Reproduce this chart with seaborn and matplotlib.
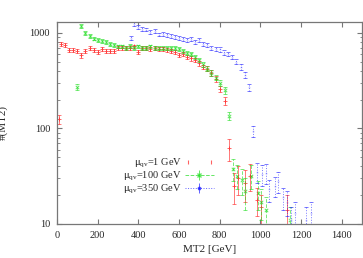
import numpy as np
import pandas as pd
import matplotlib
matplotlib.use("Agg")
import matplotlib.pyplot as plt
from matplotlib.lines import Line2D
from matplotlib.legend_handler import HandlerLine2D
from matplotlib.ticker import NullFormatter
import seaborn as sns

sns.set_style("ticks")
plt.rcParams['font.family'] = ['Liberation Serif', 'DejaVu Serif']
plt.rcParams['mathtext.fontset'] = 'custom'
plt.rcParams['mathtext.rm'] = 'Liberation Serif'
plt.rcParams['mathtext.it'] = 'Liberation Serif'

# mu_qv = 1 GeV
x1 = [10, 20, 40, 60, 80, 100, 120, 140, 160, 180, 200, 220, 240, 260, 280, 300,
      320, 340, 360, 380, 400, 420, 440, 460, 480, 500, 520, 540, 560, 580, 600,
      620, 640, 660, 680, 700, 720, 740, 760, 780, 800, 825, 845, 870, 890, 925,
      950, 985, 1005, 1130]
y1 = [125, 760, 740, 660, 660, 650, 580, 650, 690, 660, 630, 680, 650, 640, 640,
      700, 690, 700, 700, 720, 630, 700, 690, 680, 690, 680, 680, 660, 650, 630,
      590, 600, 560, 540, 520, 480, 440, 420, 380, 330, 260, 195, 62, 25, 30, 27,
      32, 18, 15, 14]
e1 = [14, 35, 35, 32, 32, 32, 30, 32, 33, 32, 31, 33, 32, 31, 31, 33, 33, 33, 33,
      34, 31, 33, 33, 33, 33, 33, 33, 32, 32, 31, 30, 30, 29, 29, 28, 27, 26, 25,
      24, 22, 20, 18, 16, 9, 10, 10, 10, 6, 5, 6]

# mu_qv = 100 GeV
x2 = [100, 120, 140, 160, 180, 200, 220, 240, 260, 280, 300, 320, 340, 360, 380,
      400, 420, 440, 460, 480, 500, 520, 540, 560, 580, 600, 620, 640, 660, 680,
      700, 720, 740, 760, 780, 800, 825, 845, 865, 885, 910, 925, 955, 990, 1005,
      1030, 1145]
y2 = [270, 1180, 1000, 930, 870, 840, 820, 800, 760, 740, 720, 720, 700, 730, 700,
      720, 690, 700, 720, 700, 690, 700, 690, 700, 690, 680, 650, 620, 600, 560,
      520, 470, 420, 380, 340, 300, 250, 135, 38, 32, 29, 22, 32, 21, 17, 14, 11]
e2 = [20, 45, 40, 38, 37, 36, 36, 35, 34, 34, 33, 33, 33, 34, 33, 33, 33, 33, 33,
      33, 33, 33, 33, 33, 33, 32, 32, 31, 30, 29, 28, 27, 25, 24, 22, 21, 19, 14,
      10, 9, 9, 8, 9, 7, 6, 5, 4]

# mu_qv = 350 GeV
x3 = [365, 380, 400, 420, 440, 460, 480, 500, 520, 540, 560, 580, 600, 620, 640,
      660, 680, 700, 720, 740, 760, 780, 800, 820, 840, 860, 880, 905, 925, 945,
      965, 985, 1010, 1030, 1045, 1070, 1085, 1110, 1130, 1150, 1170, 1225, 1250]
y3 = [890, 1240, 1150, 1100, 1080, 1020, 1050, 960, 980, 950, 930, 900, 880, 870,
      850, 860, 800, 840, 760, 740, 700, 680, 670, 620, 600, 560, 500, 440, 360,
      270, 94, 35, 33, 34, 23, 25, 28, 19, 17, 11, 13, 11, 13]
e3 = [40, 50, 48, 47, 46, 45, 46, 43, 44, 43, 42, 41, 41, 40, 40, 40, 39, 40, 38,
      37, 36, 36, 35, 34, 34, 32, 30, 29, 26, 23, 13, 8, 8, 8, 6, 6, 7, 5, 5, 4,
      4, 4, 4]

labels = [r'$\mu_{qv}$=1 GeV', r'$\mu_{qv}$=100 GeV', r'$\mu_{qv}$=350 GeV']
colors = ['#ff2020', '#20dd20', '#2020ff']
markers = ['+', 'x', '*']
styles = ['-', '--', ':']

df = pd.concat([
    pd.DataFrame({'MT2': x1, 'N': y1, 'err': e1, 'sample': labels[0]}),
    pd.DataFrame({'MT2': x2, 'N': y2, 'err': e2, 'sample': labels[1]}),
    pd.DataFrame({'MT2': x3, 'N': y3, 'err': e3, 'sample': labels[2]}),
])

fig = plt.figure(figsize=(3.63, 2.58), dpi=100)
ax = fig.add_axes([0.157, 0.132, 0.84, 0.783])

handles = []
hmap = {}
for lab, c, m, ls in zip(labels, colors, markers, styles):
    d = df[df['sample'] == lab]
    eb = ax.errorbar(d['MT2'], d['N'], yerr=d['err'], fmt='none', ecolor=c,
                     elinewidth=0.7, capsize=1.5, capthick=0.7, alpha=0.6)
    eb[2][0].set_linestyle(ls)
    sns.scatterplot(data=d, x='MT2', y='N', ax=ax, color=c, marker=m, s=6,
                    linewidth=0.7, alpha=0.7, legend=False)
    if ls == '-':
        # gnuplot key sample: only the two end ticks
        h = Line2D([], [], color=c, marker='|', ms=3.5, mew=0.8, ls='none', alpha=0.7)
        hmap[h] = HandlerLine2D(numpoints=2)
    else:
        h = ax.errorbar([], [], yerr=[], color=c, marker=m, ms=2.5, ls=ls, lw=0.7,
                        capsize=1.5, alpha=0.7, label=lab)
    handles.append(h)

ax.set_yscale('log')
ax.set_xlim(0, 1500)
ax.set_ylim(10, 1300)
ax.set_xticks(range(0, 1500, 200))
ax.set_yticks([10, 100, 1000], ['10', '100', '1000'])
ax.yaxis.set_minor_formatter(NullFormatter())
ax.set_xlabel('MT2 [GeV]', fontsize=8, labelpad=4)
ax.set_ylabel('#(MT2)', fontsize=8)
ax.yaxis.set_label_coords(-0.16, 0.5)
ax.tick_params(which='both', direction='in', top=True, right=True,
               labelsize=7.5, color='#777777')
ax.tick_params(which='major', length=3.5, width=0.8, pad=5)
ax.tick_params(which='minor', length=1.8, width=0.6)
for s in ax.spines.values():
    s.set_color('#777777')
    s.set_linewidth(0.9)

ax.legend(handles=handles, labels=labels, markerfirst=False, frameon=False,
          fontsize=7.5, loc='upper right', bbox_to_anchor=(214 / 363, 1 - 157 / 258),
          bbox_transform=fig.transFigure, borderpad=0, borderaxespad=0,
          handlelength=2.8, handletextpad=0.3, labelspacing=0.0, handler_map=hmap)

fig.savefig('out.png', dpi=100)
